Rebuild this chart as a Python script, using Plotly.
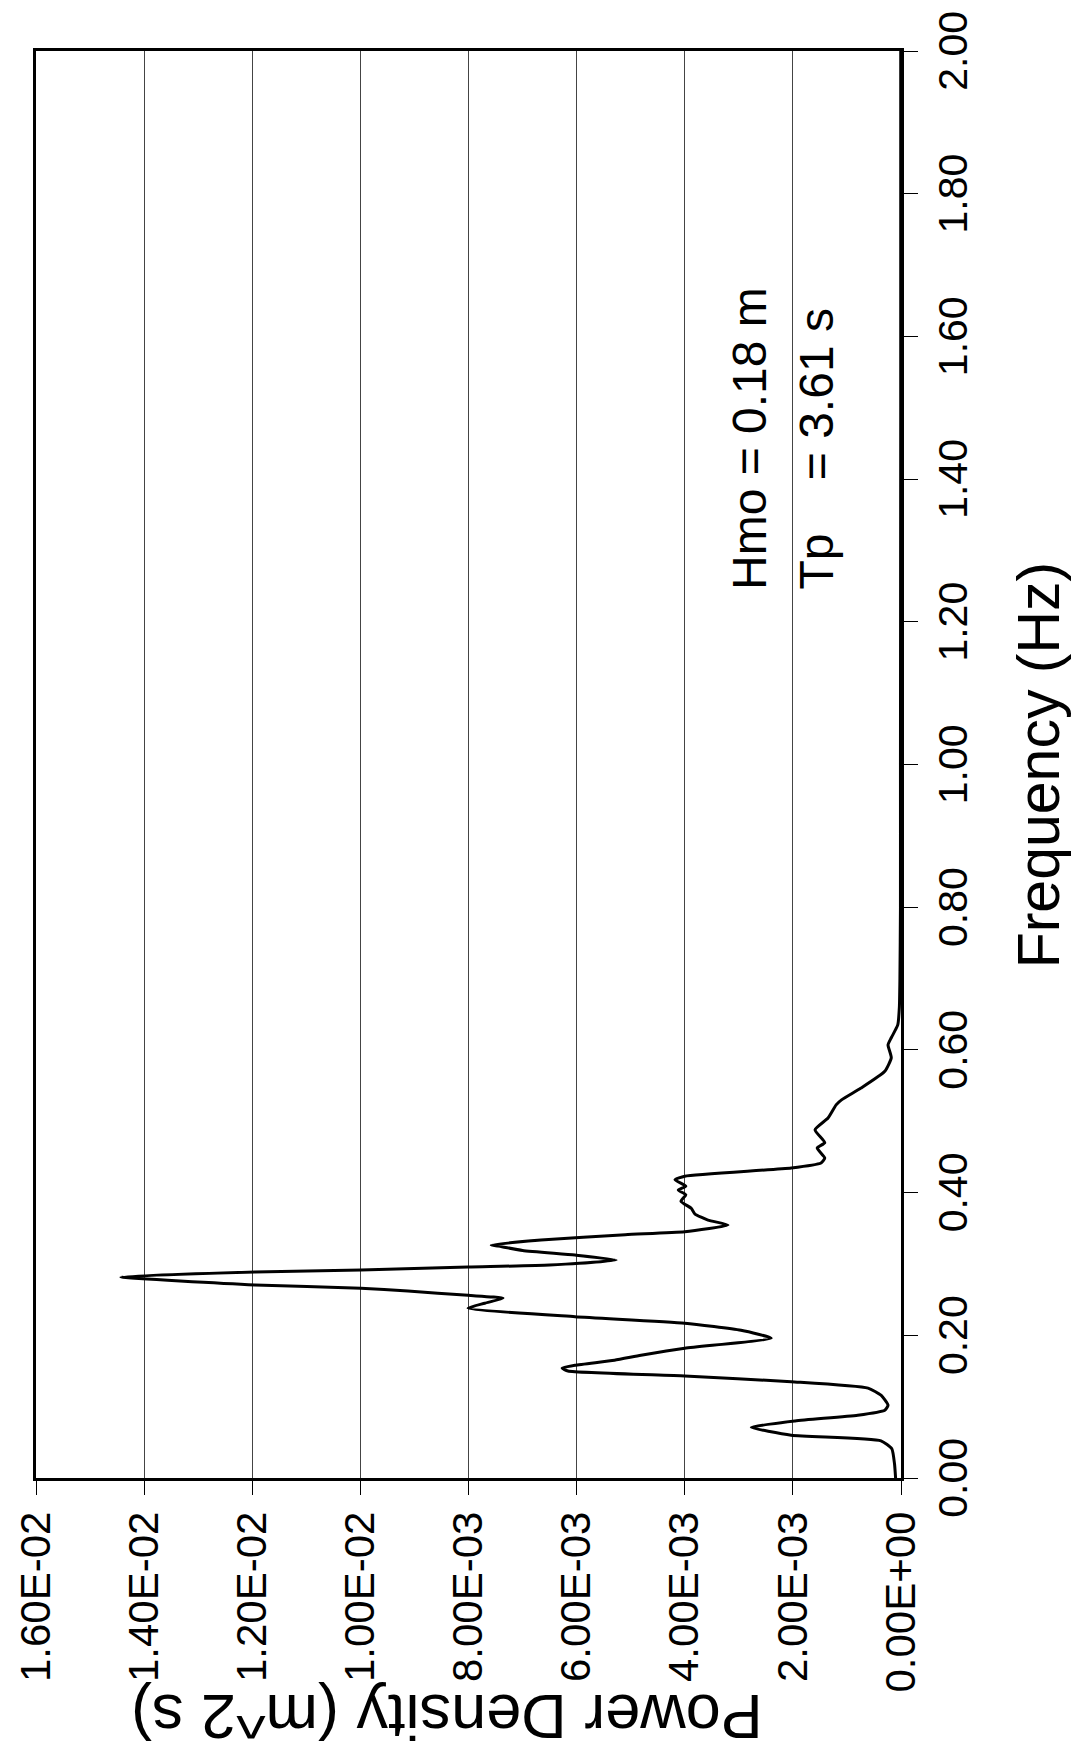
import plotly.graph_objects as go

# Spectrum data (frequency in Hz, power density in m^2 s)
freq_hz = [0.000, 0.020, 0.041, 0.052, 0.060, 0.071, 0.080, 0.088, 0.095, 0.102,
           0.116, 0.126, 0.135, 0.143, 0.150, 0.154, 0.158, 0.165, 0.172, 0.182,
           0.196, 0.207, 0.217, 0.226, 0.238, 0.245, 0.252, 0.256, 0.262, 0.266,
           0.2705, 0.2817, 0.2887, 0.2915, 0.2957, 0.2985, 0.3055, 0.3125, 0.319, 0.325,
           0.3265, 0.3335, 0.341, 0.345, 0.3545, 0.3615, 0.370, 0.378, 0.388, 0.397,
           0.4035, 0.409, 0.418, 0.423, 0.4345, 0.4415, 0.4485, 0.4625, 0.470, 0.488,
           0.5045, 0.523, 0.530, 0.5465, 0.570, 0.589, 0.607, 0.617, 0.635, 0.660,
           0.700, 0.800, 1.000, 1.500, 2.000]
power_density = [0.00010, 0.00012, 0.00017, 0.00037, 0.00203, 0.00277, 0.00196, 0.00080, 0.00030, 0.00024,
                 0.00037, 0.00061, 0.00203, 0.00400, 0.00616, 0.00627, 0.00603, 0.00530, 0.00481, 0.00400,
                 0.00240, 0.00296, 0.00400, 0.00603, 0.00801, 0.00770, 0.00736, 0.00801, 0.00912, 0.00999,
                 0.01195, 0.01443, 0.01195, 0.00999, 0.00801, 0.00650, 0.00527, 0.00603, 0.00700, 0.00745,
                 0.00758, 0.00666, 0.00510, 0.00400, 0.00320, 0.00357, 0.00381, 0.00388, 0.00407, 0.00398,
                 0.00412, 0.00398, 0.00418, 0.00400, 0.00203, 0.00148, 0.00141, 0.00155, 0.00141, 0.00159,
                 0.00135, 0.00120, 0.00110, 0.00074, 0.00030, 0.00018, 0.00024, 0.00018, 0.00006, 0.00003,
                 0.00002, 0.00001, 0.00001, 0.000005, 0.000005]

pd_tick_vals = [0.0, 0.002, 0.004, 0.006, 0.008, 0.010, 0.012, 0.014, 0.016]
pd_tick_text = ["0.00E+00", "2.00E-03", "4.00E-03", "6.00E-03", "8.00E-03",
                "1.00E-02", "1.20E-02", "1.40E-02", "1.60E-02"]
f_tick_vals = [0.0, 0.2, 0.4, 0.6, 0.8, 1.0, 1.2, 1.4, 1.6, 1.8, 2.0]
f_tick_text = ["0.00", "0.20", "0.40", "0.60", "0.80", "1.00", "1.20", "1.40", "1.60", "1.80", "2.00"]

x_title = "Power Density (m^2 s)"
y_title = "Frequency (Hz)"
note_hmo = "Hmo = 0.18 m"
note_tp = "Tp\u00a0\u00a0\u00a0\u00a0= 3.61 s"

FONT = "Arial, 'Liberation Sans', sans-serif"

fig = go.Figure()
fig.add_trace(go.Scatter(
    x=power_density, y=freq_hz, mode="lines",
    line=dict(color="black", width=3, shape="spline", smoothing=0.5),
    hoverinfo="skip",
))

fig.update_layout(
    width=1081, height=1760,
    margin=dict(l=28, r=188, t=43, b=290),
    paper_bgcolor="white", plot_bgcolor="white",
    showlegend=False,
    font=dict(family=FONT, color="black"),
    xaxis=dict(
        range=[0.016, 0.0], automargin=False, ticklabeloverflow="allow",
        tickmode="array", tickvals=pd_tick_vals, ticktext=pd_tick_text,
        tickangle=-90, tickfont=dict(size=42, family=FONT, color="black"),
        ticks="outside", ticklen=14, tickwidth=1, tickcolor="black",
        showgrid=True, gridcolor="#444444", gridwidth=1,
        showline=True, linecolor="black", linewidth=2.5, mirror=True,
        zeroline=False,
    ),
    yaxis=dict(
        range=[0.0, 2.0], side="right", automargin=False, ticklabeloverflow="allow",
        tickmode="array", tickvals=f_tick_vals, ticktext=f_tick_text,
        tickangle=-90, tickfont=dict(size=41, family=FONT, color="black"),
        ticklabelshift=6,
        ticks="outside", ticklen=14, tickwidth=1, tickcolor="black",
        showgrid=False,
        showline=True, linecolor="black", linewidth=2.5, mirror=True,
        zeroline=False,
    ),
    annotations=[
        dict(text=x_title, xref="paper", yref="paper", x=0.475, y=-0.168,
             xanchor="center", yanchor="middle", textangle=180, showarrow=False,
             font=dict(size=63, family=FONT, color="black")),
        dict(text=y_title, xref="paper", yref="paper", x=1.160, y=0.4997,
             xanchor="center", yanchor="middle", textangle=-90, showarrow=False,
             font=dict(size=59, family=FONT, color="black")),
        dict(text=note_hmo, xref="paper", yref="paper", x=0.825, y=0.621,
             xanchor="center", yanchor="bottom", textangle=-90, showarrow=False,
             font=dict(size=48, family=FONT, color="black")),
        dict(text=note_tp, xref="paper", yref="paper", x=0.902, y=0.621,
             xanchor="center", yanchor="bottom", textangle=-90, showarrow=False,
             font=dict(size=48, family=FONT, color="black")),
    ],
)

fig.write_html("out.html")
